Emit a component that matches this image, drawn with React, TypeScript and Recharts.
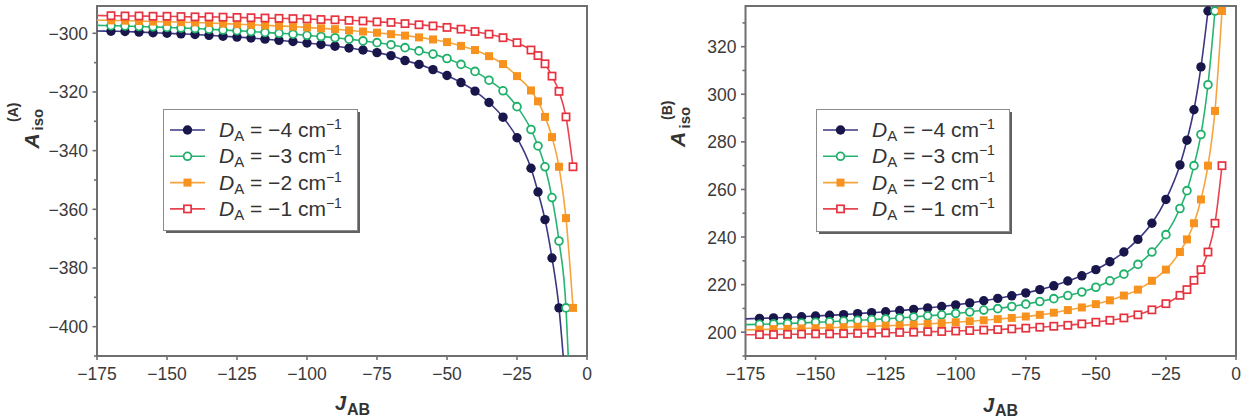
import React from 'react'
import { LineChart, Line, XAxis, YAxis, ReferenceArea } from 'recharts'

const FONT = '"Liberation Sans", Arial, Helvetica, sans-serif'

// J_AB sampling points (cm^-1), finer steps close to the divergence
const jAB = [
  -170, -165, -160, -155, -150, -145, -140, -135, -130, -125, -120, -115, -110, -105, -100, -95,
  -90, -85, -80, -75, -70, -65, -60, -55, -50, -45, -40, -35, -30, -25, -20, -17.5, -15, -12.5,
  -10, -7.5, -5,
]
const J_START = -175
const xTicks = [-175, -150, -125, -100, -75, -50, -25, 0]

// ---- panel A : A_iso^(A)
const isoA_D4 = [
  -299.3, -299.4, -299.6, -299.8, -300.0, -300.2, -300.4, -300.7, -301.0, -301.3, -301.6, -302.0,
  -302.4, -302.8, -303.3, -303.8, -304.4, -305.0, -305.7, -306.6, -307.6, -309.3, -310.6, -312.4,
  -314.4, -316.8, -319.7, -323.6, -328.6, -335.6, -346.0, -354.1, -363.5, -376.6, -393.6,
]
const isoA_D3 = [
  -297.4, -297.5, -297.7, -297.8, -298.0, -298.2, -298.4, -298.6, -298.9, -299.1, -299.4, -299.7,
  -300.0, -300.3, -300.7, -301.1, -301.5, -302.0, -302.6, -303.2, -303.9, -304.9, -306.0, -307.1,
  -308.6, -310.6, -313.0, -316.0, -319.6, -325.0, -332.8, -338.4, -345.5, -356.0, -370.8, -393.6,
]
const isoA_D2 = [
  -295.6, -295.7, -295.8, -296.0, -296.1, -296.2, -296.3, -296.5, -296.7, -296.9, -297.1, -297.3,
  -297.5, -297.7, -298.0, -298.3, -298.6, -299.0, -299.4, -299.8, -300.3, -300.8, -301.4, -302.1,
  -303.0, -304.3, -305.7, -307.8, -310.5, -314.6, -319.5, -323.2, -328.5, -335.4, -345.5, -363.0,
  -393.6,
]
const isoA_D1 = [
  -294.0, -294.1, -294.1, -294.2, -294.2, -294.3, -294.4, -294.4, -294.5, -294.6, -294.7, -294.8,
  -294.9, -295.0, -295.1, -295.3, -295.4, -295.6, -295.8, -296.1, -296.3, -296.7, -297.1, -297.5,
  -298.0, -298.6, -299.4, -300.3, -301.5, -303.2, -305.7, -307.6, -310.4, -314.6, -319.8, -328.5,
  -345.5,
]
const isoA_start = [-299.2, -297.3, -295.5, -293.95]
const isoA_tailD4 = [-8.5, -410]
const isoA_tailD3 = [-6.7, -410]
const isoA_yTicks = [-410, -400, -390, -380, -370, -360, -350, -340, -330, -320, -310, -300]

// ---- panel B : A_iso^(B)
const isoB_D4 = [
  205.8, 206.0, 206.2, 206.5, 206.8, 207.1, 207.4, 207.8, 208.2, 208.6, 209.1, 209.6, 210.2, 210.8,
  211.5, 212.3, 213.2, 214.2, 215.3, 216.5, 217.9, 219.5, 221.5, 223.7, 226.3, 229.6, 233.7, 239.0,
  245.8, 255.8, 270.3, 280.7, 293.5, 311.5, 335.0,
]
const isoB_D3 = [
  203.3, 203.5, 203.7, 203.9, 204.2, 204.4, 204.7, 205.0, 205.3, 205.6, 206.0, 206.4, 206.9, 207.3,
  207.9, 208.5, 209.3, 209.9, 210.8, 211.8, 212.9, 214.1, 215.4, 216.9, 218.9, 221.6, 224.4, 228.5,
  233.7, 241.0, 252.0, 259.5, 270.0, 283.1, 304.0, 335.0,
]
const isoB_D2 = [
  201.1, 201.3, 201.4, 201.6, 201.7, 201.9, 202.1, 202.3, 202.5, 202.7, 202.9, 203.2, 203.5, 203.8,
  204.2, 204.6, 205.0, 205.5, 206.0, 206.6, 207.3, 208.2, 209.3, 210.4, 211.8, 213.4, 215.4, 217.9,
  221.6, 226.3, 233.7, 239.0, 245.8, 255.8, 270.0, 293.0, 335.0,
]
const isoB_D1 = [
  199.0, 199.0, 199.1, 199.2, 199.3, 199.3, 199.4, 199.5, 199.6, 199.7, 199.9, 200.0, 200.2, 200.3,
  200.5, 200.7, 200.9, 201.1, 201.4, 201.7, 202.1, 202.5, 202.9, 203.5, 204.2, 205.0, 206.0, 207.3,
  209.4, 212.0, 215.5, 217.9, 221.8, 226.3, 233.7, 245.8, 270.0,
]
const isoB_start = [205.6, 203.2, 201.0, 198.9]
const isoB_yTicks = [190, 200, 210, 220, 230, 240, 250, 260, 270, 280, 290, 300, 310, 320, 330]

const dLabels = ['−4', '−3', '−2', '−1']

type Shape = 'disc' | 'ring' | 'block' | 'box'
type Style = { shape: Shape; mark: string; line: string }

const STYLES: Style[] = [
  { shape: 'disc', mark: '#18164a', line: '#3b3782' },
  { shape: 'ring', mark: '#1fb06a', line: '#27b472' },
  { shape: 'block', mark: '#f7921e', line: '#f6a53e' },
  { shape: 'box', mark: '#e6323e', line: '#e8434e' },
]

type Row = { J: number; v: number; mark: boolean }

function buildRows(values: number[], start: number, tail?: number[]): Row[] {
  const rows: Row[] = [{ J: J_START, v: start, mark: false }]
  values.forEach((v, i) => rows.push({ J: jAB[i], v, mark: true }))
  if (tail) rows.push({ J: tail[0], v: tail[1], mark: false })
  return rows
}

const panelA = [
  buildRows(isoA_D4, isoA_start[0], isoA_tailD4),
  buildRows(isoA_D3, isoA_start[1], isoA_tailD3),
  buildRows(isoA_D2, isoA_start[2]),
  buildRows(isoA_D1, isoA_start[3]),
]
const panelB = [
  buildRows(isoB_D4, isoB_start[0]),
  buildRows(isoB_D3, isoB_start[1]),
  buildRows(isoB_D2, isoB_start[2]),
  buildRows(isoB_D1, isoB_start[3]),
]

const fmt = (v: number) => (v < 0 ? `−${Math.abs(v)}` : `${v}`)

function Marker({ shape, color, cx, cy }: { shape: Shape; color: string; cx: number; cy: number }) {
  switch (shape) {
    case 'disc':
      return <circle cx={cx} cy={cy} r={4.7} fill={color} />
    case 'ring':
      return <circle cx={cx} cy={cy} r={3.9} fill="#fff" stroke={color} strokeWidth={1.8} />
    case 'block':
      return <rect x={cx - 4} y={cy - 4} width={8} height={8} fill={color} />
    default:
      return <rect x={cx - 3.6} y={cy - 3.6} width={7.2} height={7.2} fill="#fff" stroke={color} strokeWidth={1.7} />
  }
}

function XTick(props: any) {
  const { x, y, payload } = props
  return (
    <g>
      <line x1={x} x2={x} y1={y} y2={y + 4} stroke="#6f6f6f" strokeWidth={1.6} />
      <text x={x} y={y + 24} textAnchor="middle" fontSize={17.5} fontFamily={FONT} fill="#3a3a3a">
        {fmt(payload.value)}
      </text>
    </g>
  )
}

function YTick(props: any) {
  const { x, y, payload } = props
  const major = payload.value % 20 === 0
  return (
    <g>
      <line x1={x - (major ? 4.5 : 3)} x2={x} y1={y} y2={y} stroke="#6f6f6f" strokeWidth={1.6} />
      {major && (
        <text x={x - 9} y={y + 6.5} textAnchor="end" fontSize={17.5} fontFamily={FONT} fill="#3a3a3a">
          {fmt(payload.value)}
        </text>
      )}
    </g>
  )
}

type PanelProps = {
  left: number
  marginLeft: number
  marginRight: number
  yDomain: [number, number]
  yTicks: number[]
  series: Row[][]
}

function Panel({ left, marginLeft, marginRight, yDomain, yTicks, series }: PanelProps) {
  return (
    <div style={{ position: 'absolute', left, top: 0 }}>
      <LineChart
        width={630}
        height={419}
        margin={{ top: 6, right: marginRight, bottom: 33, left: marginLeft }}
      >
        <XAxis
          type="number"
          dataKey="J"
          domain={[-175, 0]}
          ticks={xTicks}
          interval={0}
          height={30}
          axisLine={false}
          tickLine={false}
          tickSize={0}
          tickMargin={0}
          tick={(p: any) => <XTick {...p} />}
          allowDataOverflow
        />
        <YAxis
          type="number"
          domain={yDomain}
          ticks={yTicks}
          interval={0}
          width={60}
          axisLine={false}
          tickLine={false}
          tickSize={0}
          tickMargin={0}
          tick={(p: any) => <YTick {...p} />}
          allowDataOverflow
        />
        <ReferenceArea
          x1={-175}
          x2={0}
          y1={yDomain[0]}
          y2={yDomain[1]}
          fill="none"
          stroke="#6f6f6f"
          strokeWidth={2}
        />
        {series.map((rows, s) => (
          <Line
            key={s}
            data={rows}
            dataKey="v"
            type="monotone"
            stroke={STYLES[s].line}
            strokeWidth={1.6}
            activeDot={false}
            isAnimationActive={false}
            dot={(p: any) =>
              p.payload.mark ? (
                <Marker key={`m${s}-${p.index}`} shape={STYLES[s].shape} color={STYLES[s].mark} cx={p.cx} cy={p.cy} />
              ) : (
                <g key={`m${s}-${p.index}`} />
              )
            }
          />
        ))}
      </LineChart>
    </div>
  )
}

function LegendBox({ x, y, w, h }: { x: number; y: number; w: number; h: number }) {
  return (
    <g transform={`translate(${x},${y})`}>
      <rect x={3} y={3} width={w} height={h} fill="#616161" />
      <rect x={0.5} y={0.5} width={w} height={h} fill="#fff" stroke="#8c8c8c" strokeWidth={1} />
      {dLabels.map((d, i) => {
        const cy = 21 + i * 26.3
        const st = STYLES[i]
        return (
          <g key={d}>
            <line x1={7} x2={42} y1={cy} y2={cy} stroke={st.line} strokeWidth={1.6} />
            <Marker shape={st.shape} color={st.mark} cx={24.5} cy={cy} />
            <text x={56} y={cy + 7} fontSize={21} fontFamily={FONT} fill="#333">
              <tspan fontStyle="italic">D</tspan>
              <tspan fontSize={15} dy={4}>A</tspan>
              <tspan dy={-4}>{` = ${d} cm`}</tspan>
              <tspan fontSize={14} dy={-8}>−1</tspan>
            </text>
          </g>
        )
      })}
    </g>
  )
}

function YTitle({ x, y, supX, supY, subX, subY, sup }: any) {
  const common = { fontFamily: FONT, fontWeight: 'bold' as const, fill: '#333' }
  return (
    <g>
      <text {...common} x={x} y={y} transform={`rotate(-90 ${x} ${y})`} fontSize={21} fontStyle="italic">A</text>
      <text {...common} x={subX} y={subY} transform={`rotate(-90 ${subX} ${subY})`} fontSize={15}>iso</text>
      <text {...common} x={supX} y={supY} transform={`rotate(-90 ${supX} ${supY})`} fontSize={14}>{sup}</text>
    </g>
  )
}

function XTitle({ x, y, subY }: { x: number; y: number; subY: number }) {
  return (
    <g fontFamily={FONT} fontWeight="bold" fill="#333">
      <text x={x} y={y} fontSize={20} fontStyle="italic">J</text>
      <text x={x + 12} y={subY} fontSize={16}>AB</text>
    </g>
  )
}

export default function App() {
  return (
    <div
      style={{
        position: 'fixed',
        left: 0,
        top: 0,
        width: 1260,
        height: 419,
        background: '#fff',
        overflow: 'hidden',
        fontFamily: FONT,
      }}
    >
      <Panel left={0} marginLeft={37} marginRight={43} yDomain={[-410, -290.7]} yTicks={isoA_yTicks} series={panelA} />
      <Panel left={630} marginLeft={55.5} marginRight={24} yDomain={[190, 337.1]} yTicks={isoB_yTicks} series={panelB} />
      <svg width={1260} height={419} style={{ position: 'absolute', left: 0, top: 0, pointerEvents: 'none' }}>
        <LegendBox x={163} y={109} w={194} h={121} />
        <LegendBox x={816} y={109} w={193} h={122} />
        <YTitle x={38.5} y={148.5} subX={43} subY={130.5} supX={17.5} supY={122} sup="(A)" />
        <YTitle x={685} y={147} subX={690} subY={128.5} supX={672} supY={120} sup="(B)" />
        <XTitle x={335} y={410} subY={415} />
        <XTitle x={983} y={411.5} subY={415.5} />
      </svg>
    </div>
  )
}
